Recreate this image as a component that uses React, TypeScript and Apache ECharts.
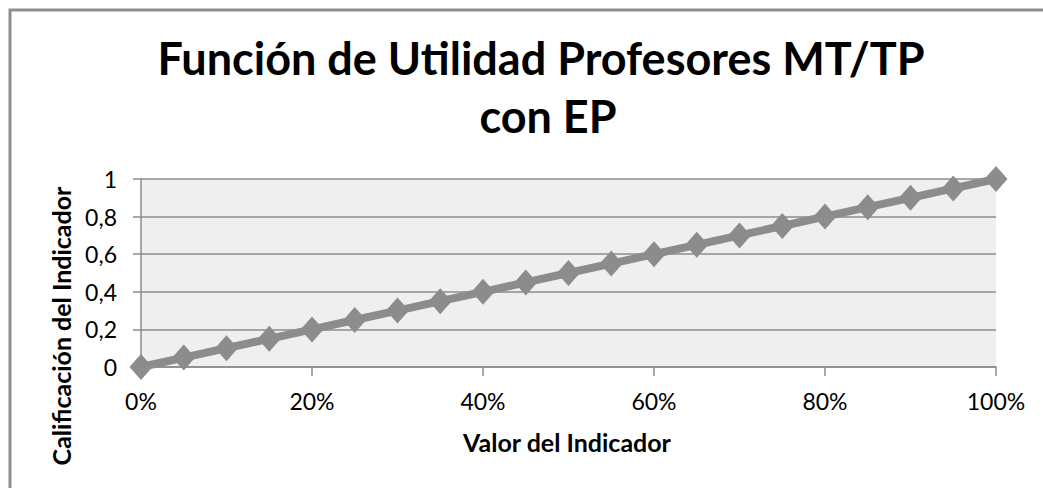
import React, { useEffect, useRef } from "react";
import * as echarts from "echarts";

const titleLine1 = "Función de Utilidad Profesores MT/TP";
const titleLine2 = "con EP";
const xAxisTitle = "Valor del Indicador";
const yAxisTitle = "Calificación del Indicador";

const categories = [
  "0%", "5%", "10%", "15%", "20%", "25%", "30%", "35%", "40%", "45%", "50%",
  "55%", "60%", "65%", "70%", "75%", "80%", "85%", "90%", "95%", "100%",
];
const utilityValues = [
  0, 0.05, 0.1, 0.15, 0.2, 0.25, 0.3, 0.35, 0.4, 0.45, 0.5,
  0.55, 0.6, 0.65, 0.7, 0.75, 0.8, 0.85, 0.9, 0.95, 1,
];
const yMin = 0;
const yMax = 1;
const yStep = 0.2;

const FONT = "Lato";
const GRAY = "#8c8c8c";

export default function App() {
  const ref = useRef<HTMLDivElement>(null);
  useEffect(() => {
    if (!ref.current) return;
    const chart = echarts.init(ref.current, undefined, { renderer: "svg" });
    chart.setOption({
      animation: false,
      backgroundColor: "#ffffff",
      grid: {
        left: 141,
        right: 47,
        top: 179,
        bottom: 121,
        show: true,
        backgroundColor: "#efefef",
        borderWidth: 0,
      },
      graphic: [
        {
          type: "rect",
          shape: { x: 10, y: 10, width: 2000, height: 2000 },
          style: { fill: "none", stroke: "#8e8e8e", lineWidth: 3 },
          silent: true,
        },
        {
          type: "text",
          x: 541,
          y: 58,
          style: {
            text: titleLine1,
            font: `bold 45px ${FONT}`,
            fill: "#000",
            textAlign: "center",
            textVerticalAlign: "middle",
          },
        },
        {
          type: "text",
          x: 548,
          y: 116,
          style: {
            text: titleLine2,
            font: `bold 45px ${FONT}`,
            fill: "#000",
            textAlign: "center",
            textVerticalAlign: "middle",
          },
        },
        {
          type: "text",
          x: 567,
          y: 442,
          style: {
            text: xAxisTitle,
            font: `bold 25px ${FONT}`,
            fill: "#000",
            textAlign: "center",
            textVerticalAlign: "middle",
          },
        },
        {
          type: "text",
          x: 61,
          y: 326,
          rotation: Math.PI / 2,
          style: {
            text: yAxisTitle,
            font: `bold 25px ${FONT}`,
            fill: "#000",
            textAlign: "center",
            textVerticalAlign: "middle",
          },
        },
      ],
      xAxis: {
        type: "category",
        data: categories,
        boundaryGap: false,
        axisLine: { show: true, lineStyle: { color: GRAY, width: 1.5 } },
        axisTick: {
          show: true,
          interval: 3,
          length: 9,
          lineStyle: { color: GRAY, width: 1.5 },
        },
        axisLabel: {
          interval: 3,
          margin: 22,
          color: "#000",
          fontFamily: FONT,
          fontSize: 23,
        },
        splitLine: { show: false },
      },
      yAxis: {
        type: "value",
        min: yMin,
        max: yMax,
        interval: yStep,
        axisLine: { show: true, lineStyle: { color: GRAY, width: 1.5 } },
        axisTick: { show: true, length: 8, lineStyle: { color: GRAY, width: 1.5 } },
        axisLabel: {
          margin: 24,
          color: "#000",
          fontFamily: FONT,
          fontSize: 23,
          formatter: (v: number) => String(+v.toFixed(1)).replace(".", ","),
        },
        splitLine: { show: true, lineStyle: { color: GRAY, width: 1.5 } },
      },
      series: [
        {
          type: "line",
          data: utilityValues,
          symbol: "diamond",
          symbolSize: [23, 26],
          showAllSymbol: true,
          clip: false,
          lineStyle: { color: GRAY, width: 8 },
          itemStyle: { color: GRAY },
        },
      ],
    });
    return () => chart.dispose();
  }, []);
  return (
    <div
      ref={ref}
      style={{ position: "fixed", left: 0, top: 0, width: 1043, height: 488 }}
    />
  );
}
